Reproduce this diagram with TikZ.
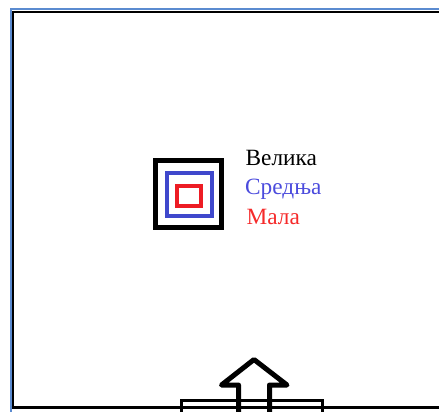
\documentclass[tikz,border=0pt]{standalone}
\usepackage{fontspec}
\setmainfont{Liberation Serif}
\usepackage{tikz}
\definecolor{paintblue}{HTML}{3F48CC}
\definecolor{paintred}{HTML}{ED1C24}
\definecolor{textblue}{HTML}{4B4BDD}
\definecolor{textred}{HTML}{F52A2A}
\definecolor{frameblue}{HTML}{5B8BD0}

\begin{document}
\begin{tikzpicture}[x=1pt, y=-1pt,
    legend/.style={anchor=base west, inner sep=0pt, font=\fontsize{23.3}{28}\selectfont},
    square/.style={line width=4pt, line join=miter},
    outline/.style={line width=3pt},
]
    \useasboundingbox (0,0) rectangle (439,412);
    \clip (0,0) rectangle (439,412);
    % Frame
    \draw[frameblue, line width=2pt] (10.5,415) -- (10.5,9.5) -- (445,9.5);
    \draw[black, line width=2pt] (12.5,408) -- (12.5,12) -- (445,12);
    \draw[black, line width=3pt] (11.5,407.5) -- (445,407.5);
    % Squares
    \draw[square, black, line width=5pt] (155.5,160.5) rectangle (221.5,227.5);
    \draw[square, paintblue] (167,173) rectangle (212,216);
    \draw[square, paintred] (177,186) rectangle (201,206);
    % Labels
    \node[legend, black] (velika) at (245.5,165) {Велика};
    \node[legend, textblue] (srednja) at (245,194) {Средња};
    \node[legend, textred] (mala) at (246.5,224) {Мала};
    % Base and arrow
    \draw[outline] (181.5,420) |- (322.5,400) -- (322.5,420);
    \draw[line width=5pt, line join=round]
        (238.5,420) -- (238.5,385) -- (221.5,385) -- (254,359.5)
        -- (287,385) -- (269.5,385) -- (269.5,420);
\end{tikzpicture}
\end{document}
